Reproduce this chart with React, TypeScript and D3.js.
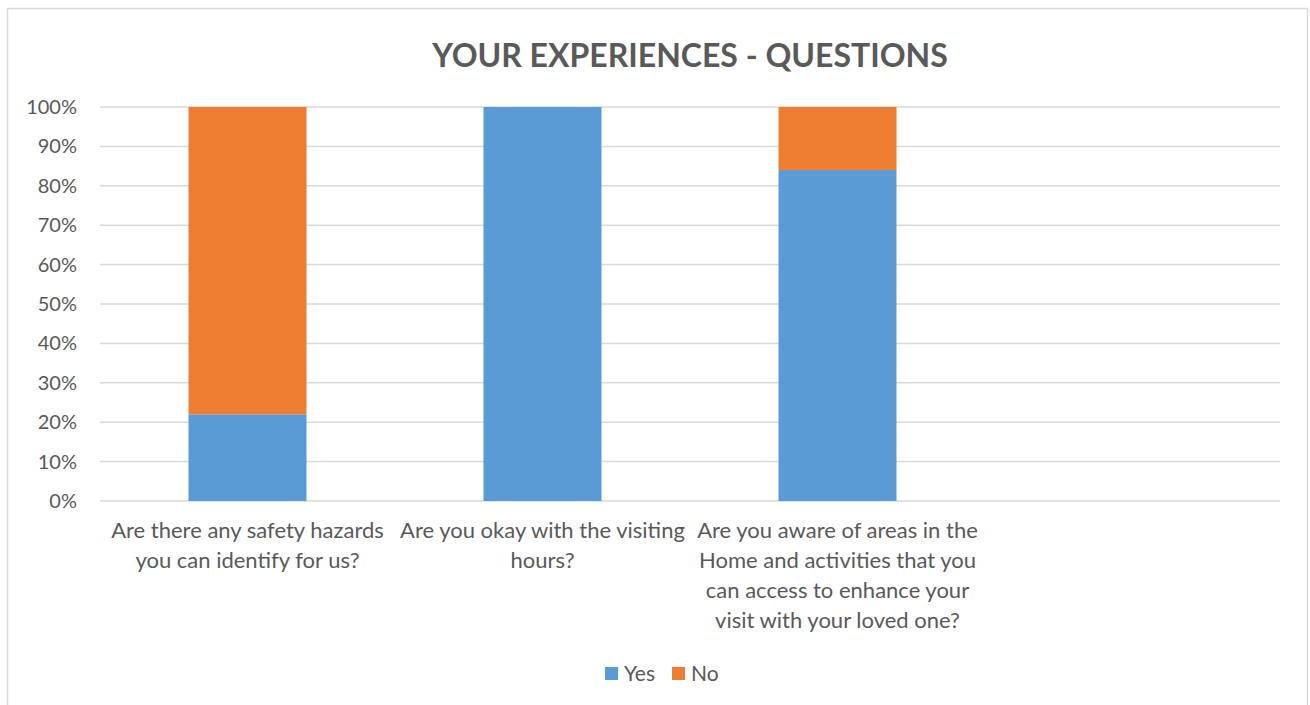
import React, { useEffect, useRef } from "react";
import * as d3 from "d3";

// chart data
const categories = ["q1", "q2", "q3", "q4"];
const categoryLabels = [
  ["Are there any safety hazards", "you can identify for us?"],
  ["Are you okay with the visiting", "hours?"],
  ["Are you aware of areas in the", "Home and activities that you", "can access to enhance your", "visit with your loved one?"],
  [],
];
const yesValues = [0.22, 1.0, 0.84, null];
const noValues = [0.78, 0, 0.16, null];
const seriesNames = ["Yes", "No"];
const seriesColors = ["#5B9BD5", "#ED7D31"];
const yTicks = [0, 0.1, 0.2, 0.3, 0.4, 0.5, 0.6, 0.7, 0.8, 0.9, 1.0];
const chartTitle = "YOUR EXPERIENCES - QUESTIONS";

const W = 1310, H = 705;
const FONT = "Lato, 'Open Sans', sans-serif";

export default function App() {
  const svgRef = useRef<SVGSVGElement>(null);

  useEffect(() => {
    const svg = d3.select(svgRef.current);
    svg.selectAll("*").remove();

    const margin = { top: 107, right: 30, bottom: 204, left: 100 };
    const innerW = W - margin.left - margin.right;
    const innerH = H - margin.top - margin.bottom;

    // chart border
    svg.append("rect")
      .attr("x", 7.5).attr("y", 8.5)
      .attr("width", 1300).attr("height", 720)
      .attr("fill", "#fff").attr("stroke", "#D9D9D9").attr("stroke-width", 1.5);

    svg.append("text")
      .attr("x", 690).attr("y", 67)
      .attr("text-anchor", "middle")
      .attr("font-family", FONT).attr("font-weight", "bold")
      .attr("font-size", 32).attr("fill", "#595959")
      .text(chartTitle);

    const g = svg.append("g").attr("transform", `translate(${margin.left},${margin.top})`);

    const x = d3.scaleBand().domain(categories).range([0, innerW]).paddingInner(0).paddingOuter(0);
    const y = d3.scaleLinear().domain([0, 1]).range([innerH, 0]);

    // gridlines
    g.selectAll("line.grid").data(yTicks).enter().append("line")
      .attr("x1", 0).attr("x2", innerW)
      .attr("y1", d => y(d)).attr("y2", d => y(d))
      .attr("stroke", "#D9D9D9").attr("stroke-width", 1.5);

    // y axis labels
    const yAxis = g.append("g")
      .call(d3.axisLeft(y).tickValues(yTicks).tickFormat(d3.format(".0%")).tickSize(0).tickPadding(23));
    yAxis.select(".domain").remove();
    yAxis.selectAll("text")
      .attr("font-family", FONT).attr("font-size", 20).attr("fill", "#595959");

    // stacked bars
    const barW = x.bandwidth() * 0.4;
    const rows = categories.map((c, i) => ({ c, yes: yesValues[i], no: noValues[i] }));
    const stacked = d3.stack<any>().keys(["yes", "no"]).value((d, k) => d[k] ?? 0)(rows);

    stacked.forEach((layer, si) => {
      g.selectAll(`rect.s${si}`).data(layer).enter().append("rect")
        .attr("x", d => (x(d.data.c) as number) + (x.bandwidth() - barW) / 2)
        .attr("width", barW)
        .attr("y", d => y(d[1]))
        .attr("height", d => y(d[0]) - y(d[1]))
        .attr("fill", seriesColors[si]);
    });

    // category labels
    categories.forEach((c, i) => {
      const t = g.append("text")
        .attr("text-anchor", "middle")
        .attr("font-family", FONT).attr("font-size", 22).attr("fill", "#595959");
      categoryLabels[i].forEach((line, li) => {
        t.append("tspan")
          .attr("x", (x(c) as number) + x.bandwidth() / 2)
          .attr("y", innerH + 37 + li * 30)
          .text(line);
      });
    });

    // legend
    const legend = svg.append("g").attr("transform", "translate(605,667)");
    const legendX = [0, 67];
    seriesNames.forEach((name, i) => {
      legend.append("rect").attr("x", legendX[i]).attr("y", 0)
        .attr("width", 13).attr("height", 13).attr("fill", seriesColors[i]);
      legend.append("text").attr("x", legendX[i] + 19).attr("y", 14)
        .attr("font-family", FONT).attr("font-size", 21).attr("fill", "#595959")
        .text(name);
    });
  }, []);

  return (
    <svg ref={svgRef} width={W} height={H}
      style={{ position: "fixed", left: 0, top: 0, display: "block", background: "#fff" }} />
  );
}
